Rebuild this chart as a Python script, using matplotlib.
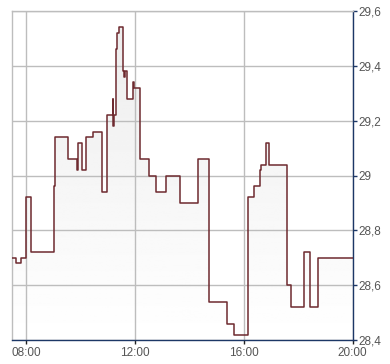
import numpy as np
import matplotlib
matplotlib.use("Agg")
import matplotlib.pyplot as plt
from matplotlib.patches import Polygon

plt.rcParams['font.family'] = ['Liberation Sans', 'DejaVu Sans']

# trade times and prices (step chart, price holds until next trade)
times = ["07:28", "07:37", "07:48", "08:00", "08:10", "09:00", "09:02", "09:04",
         "09:31", "09:51", "09:53", "10:03", "10:12", "10:26", "10:46", "10:58",
         "11:11", "11:12", "11:13", "11:18", "11:20", "11:25", "11:34", "11:36",
         "11:38", "11:41", "11:56", "11:58", "12:10", "12:30", "12:47", "13:09",
         "13:38", "14:18", "14:42", "15:22", "15:38", "16:10", "16:22", "16:35",
         "16:38", "16:48", "16:56", "17:36", "17:45", "18:12", "18:27", "18:43",
         "20:00"]
prices = [28.70, 28.68, 28.70, 28.92, 28.72, 28.96, 29.00, 29.14,
          29.06, 29.02, 29.12, 29.02, 29.14, 29.16, 28.94, 29.22,
          29.28, 29.18, 29.22, 29.46, 29.52, 29.54, 29.38, 29.36,
          29.38, 29.28, 29.34, 29.32, 29.06, 29.00, 28.94, 29.00,
          28.90, 29.06, 28.54, 28.46, 28.42, 28.92, 28.96, 29.02,
          29.04, 29.12, 29.04, 28.60, 28.52, 28.72, 28.52, 28.70,
          28.70]

x_ticks = [8, 12, 16, 20]
x_labels = ["08:00", "12:00", "16:00", "20:00"]
y_ticks = [28.4, 28.6, 28.8, 29.0, 29.2, 29.4, 29.6]
y_labels = ["28,4", "28,6", "28,8", "29", "29,2", "29,4", "29,6"]

t = np.array([int(s[:2]) + int(s[3:]) / 60 for s in times])
v = np.array(prices)

navy = "#1c3766"
grid_c = "#bdbdbd"
line_c = "#6e2a2f"

fig = plt.figure(figsize=(3.9, 3.64), dpi=100)
ax = fig.add_axes([12 / 390, 1 - 340 / 364, 340.5 / 390, 329 / 364])
ymin, ymax = 28.4, 29.6
xmin, xmax = t[0], 20.0
ax.set_xlim(xmin, xmax)
ax.set_ylim(ymin, ymax)

# gradient fill under the step line (grey at top fading to white)
xs = np.repeat(t, 2)[1:]
ys = np.repeat(v, 2)[:-1]
poly_pts = np.column_stack([np.r_[xs, xs[-1], xs[0]], np.r_[ys, ymin, ymin]])
poly = Polygon(poly_pts, closed=True, facecolor="none", edgecolor="none")
ax.add_patch(poly)
grad = np.linspace(0.925, 1.0, 256).reshape(-1, 1)
img = ax.imshow(grad, cmap="gray", vmin=0, vmax=1, aspect="auto",
                extent=[xmin, xmax, ymin, ymax], origin="upper", zorder=0.2)
img.set_clip_path(poly)

ax.step(t, v, where="post", color=line_c, lw=1.1, zorder=3)

ax.set_xticks(x_ticks)
ax.set_xticklabels(x_labels)
ax.set_yticks(y_ticks)
ax.set_yticklabels(y_labels)
ax.yaxis.tick_right()
ax.grid(True, color=grid_c, lw=1.0, zorder=0.5)
ax.set_axisbelow(True)

for side in ["left", "top"]:
    ax.spines[side].set_color(grid_c)
    ax.spines[side].set_linewidth(1.0)
for side in ["right", "bottom"]:
    ax.spines[side].set_color(navy)
    ax.spines[side].set_linewidth(1.0)

ax.tick_params(axis="y", colors=navy, labelcolor="#555555", length=3, width=1,
               pad=1, labelsize=8.5)
ax.tick_params(axis="x", colors="#222222", labelcolor="#555555", length=3, width=1,
               pad=2, labelsize=8.5)

fig.savefig("out.png", dpi=100)
